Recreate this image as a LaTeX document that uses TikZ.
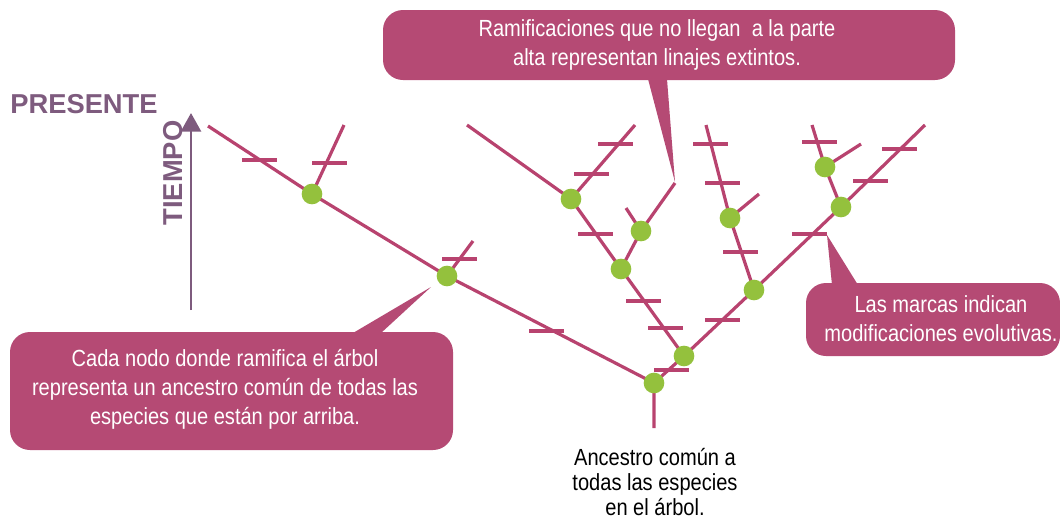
\documentclass[tikz,border=0pt]{standalone}
\usepackage{fontspec}
\setmainfont[FakeStretch=0.86]{Liberation Sans}
\newfontfamily\boldsans{Liberation Sans}
\usetikzlibrary{arrows.meta}
\definecolor{treec}{HTML}{B8436F}
\definecolor{boxc}{HTML}{B54A74}
\definecolor{dotc}{HTML}{94C13D}
\definecolor{timec}{HTML}{7E5B7E}
\tikzset{
  branch/.style={draw=treec, line width=2.4pt},
  markline/.style={draw=treec, line width=2.4pt},
  dot/.style={circle, fill=dotc, minimum size=15.5pt, inner sep=0pt},
  callout/.style={fill=boxc, rounded corners=15pt},
  callouttext/.style={text=white, align=center, font=\fontsize{17.5}{21.75}\selectfont},
  plaintext/.style={text=black, align=center, inner sep=0pt, font=\fontsize{17.5}{18.75}\selectfont},
  axislabel/.style={text=timec, inner sep=0pt, font=\boldsans\bfseries\fontsize{20.5}{22}\selectfont}
}
\begin{document}
\begin{tikzpicture}[x=0.75pt,y=-0.75pt]
\useasboundingbox (0,0) rectangle (1060,519);
% ---- coordinates of the tree
\coordinate (L1) at (208,126);
\coordinate (A) at (312,194);
\coordinate (A1) at (344,125);
\coordinate (B) at (447,276);
\coordinate (B1) at (473,241);
\coordinate (C0) at (467,125);
\coordinate (C) at (571,199);
\coordinate (C1) at (635,125);
\coordinate (D) at (621,269);
\coordinate (E) at (641,231);
\coordinate (E1) at (626,208);
\coordinate (E2) at (675,183);
\coordinate (F) at (684,356);
\coordinate (G) at (654,383);
\coordinate (G0) at (654,428);
\coordinate (H) at (754,290);
\coordinate (I0) at (706,125);
\coordinate (I) at (730,218);
\coordinate (I1) at (759,194);
\coordinate (J) at (841,207);
\coordinate (J1) at (925,125);
\coordinate (K) at (825,167);
\coordinate (K0) at (812,125);
\coordinate (K1) at (861,144);
% ---- branches
\draw[branch] (L1) -- (A) -- (B) -- (G) -- (G0);
\draw[branch] (A) -- (A1);
\draw[branch] (B) -- (B1);
\draw[branch] (C0) -- (C) -- (D) -- (F) -- (G);
\draw[branch] (C) -- (C1);
\draw[branch] (D) -- (E) -- (E2);
\draw[branch] (E) -- (E1);
\draw[branch] (F) -- (H) -- (J) -- (J1);
\draw[branch] (H) -- (I) -- (I0);
\draw[branch] (I) -- (I1);
\draw[branch] (J) -- (K) -- (K0);
\draw[branch] (K) -- (K1);
% ---- marks (evolutionary modifications)
\draw[markline] (242,160) -- (277,160);
\draw[markline] (312,163) -- (347,163);
\draw[markline] (442,259) -- (477,259);
\draw[markline] (598,144) -- (633,144);
\draw[markline] (574,174) -- (609,174);
\draw[markline] (578,234) -- (613,234);
\draw[markline] (626,301) -- (661,301);
\draw[markline] (648,328) -- (683,328);
\draw[markline] (654,370) -- (689,370);
\draw[markline] (529,331) -- (564,331);
\draw[markline] (705,320) -- (740,320);
\draw[markline] (693,144) -- (728,144);
\draw[markline] (705,183) -- (740,183);
\draw[markline] (723,252) -- (758,252);
\draw[markline] (792,234) -- (827,234);
\draw[markline] (853,181) -- (888,181);
\draw[markline] (882,149) -- (917,149);
\draw[markline] (802,142) -- (837,142);
% ---- node dots
\foreach \p in {A,B,C,D,E,F,G,H,I,J,K} {\node[dot] (n\p) at (\p) {};}
% ---- time axis
\coordinate (T0) at (191,310);
\coordinate (T1) at (191,113);
\draw[timec, line width=2.2pt, -{Triangle[length=14pt,width=15pt]}] (T0) -- (T1);
\node[axislabel, rotate=90] (tiempo) at (173,173) {TIEMPO};
\node[axislabel] (presente) at (84,104) {PRESENTE};
% ---- callout top
\coordinate (P1a) at (648,79);
\coordinate (P1b) at (667,79);
\coordinate (P1t) at (675,182);
\fill[boxc] (P1a) -- (P1t) -- (P1b) -- cycle;
\fill[callout] (383,10) rectangle (955,80);
\node[callouttext] (t1) at (657,45) {Ramificaciones que no llegan\ \ a la parte\\alta representan linajes extintos.};
% ---- callout left
\coordinate (P2a) at (353,333);
\coordinate (P2b) at (381,333);
\coordinate (P2t) at (431,287);
\fill[boxc] (P2a) -- (P2t) -- (P2b) -- cycle;
\fill[callout] (10,332) rectangle (453,450);
\node[callouttext] (t2) at (225,389) {Cada nodo donde ramifica el árbol\\representa un ancestro común de todas las\\especies que están por arriba.};
% ---- callout right
\coordinate (P3a) at (832,285);
\coordinate (P3b) at (858,285);
\coordinate (P3t) at (827,235);
\fill[boxc] (P3a) -- (P3t) -- (P3b) -- cycle;
\fill[callout] (806,283) rectangle (1060,356);
\node[callouttext] (t3) at (941,319) {Las marcas indican\\modificaciones evolutivas.};
% ---- root label
\node[plaintext] (root) at (655,482) {Ancestro común a\\todas las especies\\en el árbol.};
\end{tikzpicture}
\end{document}
